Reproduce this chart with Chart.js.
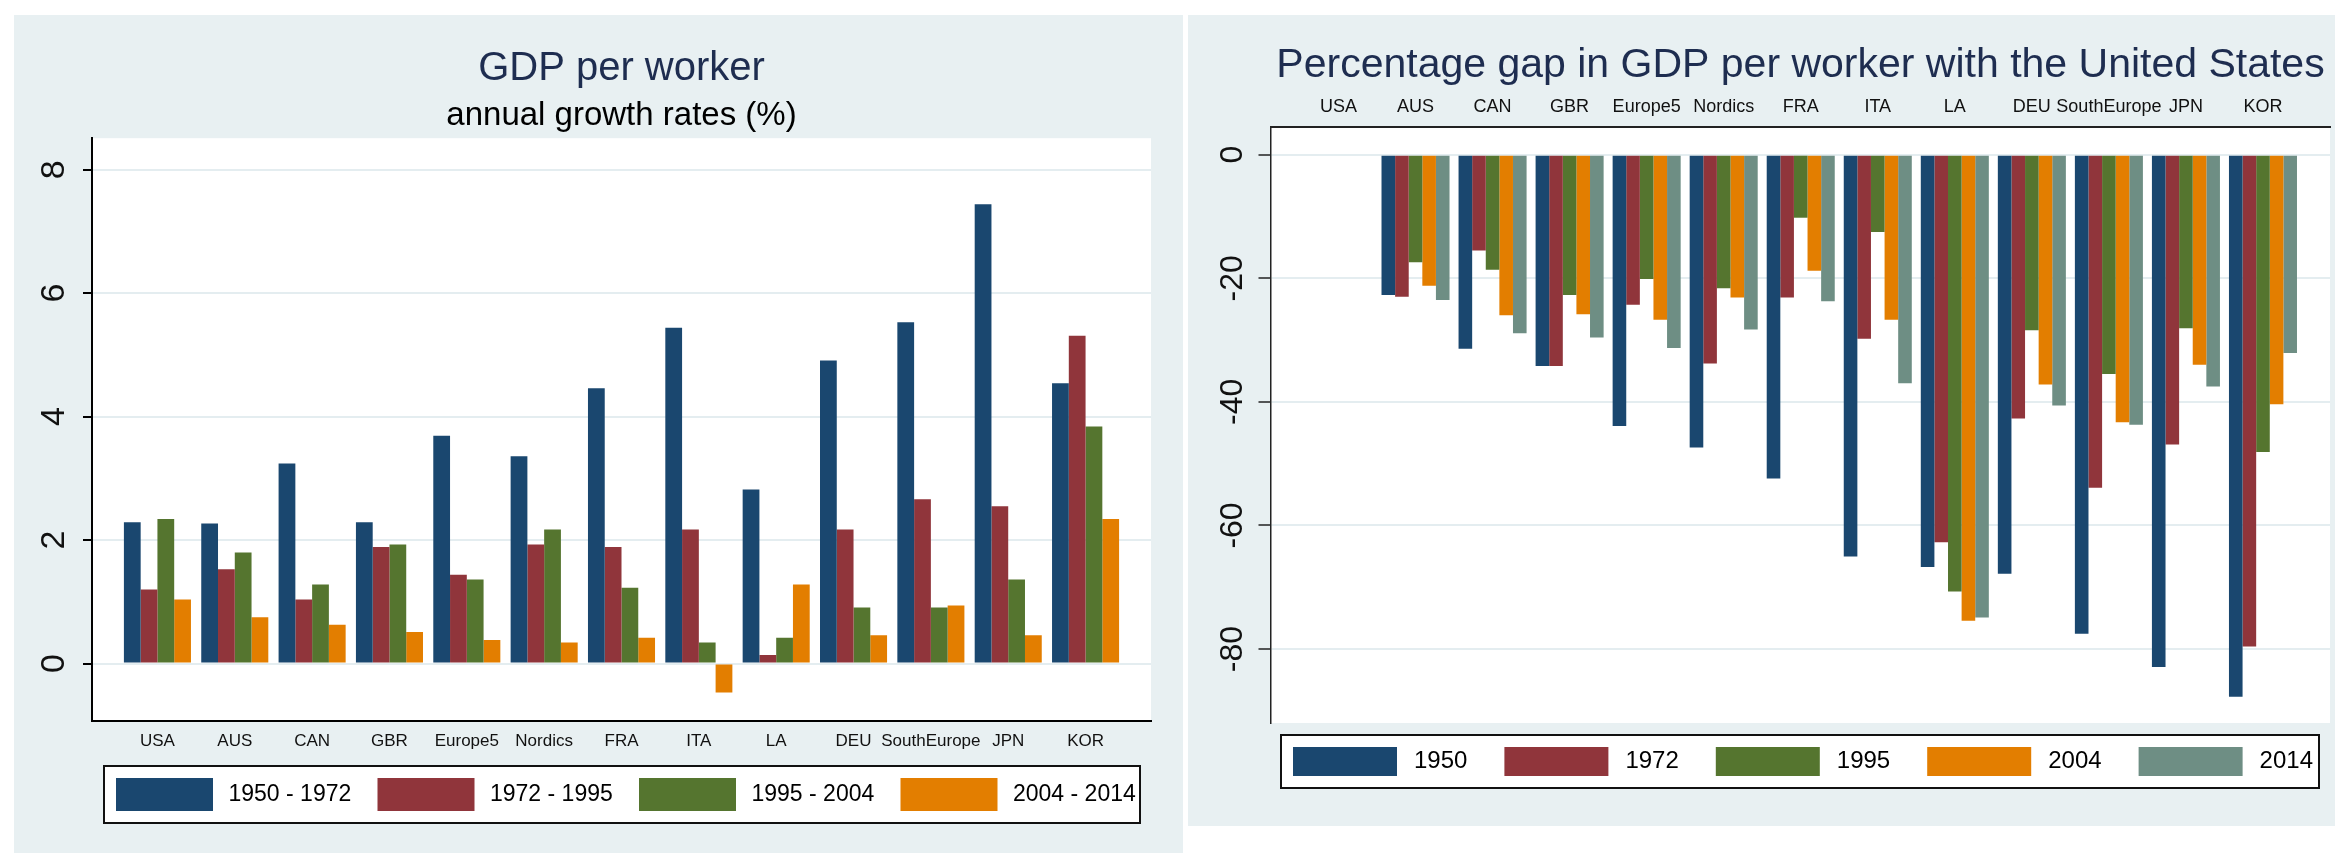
<!DOCTYPE html>
<html>
<head>
<meta charset="utf-8">
<title>GDP per worker</title>
<script src="https://cdn.jsdelivr.net/npm/chart.js@4.4.1/dist/chart.umd.min.js"></script>
<style>
  html, body { margin: 0; padding: 0; background: #fff; }
  body { position: relative; width: 2335px; height: 856px; overflow: hidden; }
  .panel { position: absolute; background: #e8f0f2; }
  .wrap { position: absolute; top: 0; height: 856px; }
</style>
</head>
<body>
<div class="panel" style="left:14px;top:15px;width:1169px;height:838px"></div>
<div class="panel" style="left:1188px;top:15px;width:1147px;height:811px"></div>
<div class="wrap" style="left:0;width:1183px"><canvas id="growth"></canvas></div>
<div class="wrap" style="left:1188px;width:1147px"><canvas id="gap"></canvas></div>
<script>
const categories = ['USA', 'AUS', 'CAN', 'GBR', 'Europe5', 'Nordics', 'FRA', 'ITA', 'LA', 'DEU', 'SouthEurope', 'JPN', 'KOR'];

// left panel: annual growth rates (%)
const growthPeriods = ['1950 - 1972', '1972 - 1995', '1995 - 2004', '2004 - 2014'];
const growth5072 = [2.29, 2.27, 3.24, 2.29, 3.69, 3.36, 4.46, 5.44, 2.82, 4.91, 5.53, 7.44, 4.54];
const growth7295 = [1.20, 1.53, 1.04, 1.89, 1.44, 1.93, 1.89, 2.17, 0.14, 2.17, 2.66, 2.55, 5.31];
const growth9504 = [2.34, 1.80, 1.28, 1.93, 1.36, 2.17, 1.23, 0.34, 0.42, 0.91, 0.91, 1.36, 3.84];
const growth0414 = [1.04, 0.75, 0.63, 0.51, 0.38, 0.34, 0.42, -0.47, 1.28, 0.46, 0.94, 0.46, 2.34];
const growthTicks = [0, 2, 4, 6, 8];

// right panel: percentage gap with the United States
const gapYears = ['1950', '1972', '1995', '2004', '2014'];
const gap1950 = [0, -22.7, -31.4, -34.2, -43.9, -47.4, -52.4, -65.0, -66.7, -67.8, -77.5, -82.9, -87.7];
const gap1972 = [0, -23.0, -15.5, -34.2, -24.3, -33.8, -23.1, -29.8, -62.7, -42.7, -53.9, -46.9, -79.6];
const gap1995 = [0, -17.4, -18.6, -22.7, -20.1, -21.6, -10.2, -12.5, -70.7, -28.4, -35.5, -28.1, -48.1];
const gap2004 = [0, -21.2, -26.0, -25.8, -26.7, -23.1, -18.8, -26.7, -75.4, -37.2, -43.3, -34.0, -40.4];
const gap2014 = [0, -23.5, -28.9, -29.6, -31.3, -28.3, -23.7, -37.0, -74.9, -40.6, -43.7, -37.5, -32.1];
const gapTicks = [0, -20, -40, -60, -80];

const colors = ['#1a476f', '#90353b', '#55752f', '#e37e00', '#6e8e84'];
const titleColor = '#1e2d50';
const gridColor = '#e4edf0';

Chart.defaults.font.family = '"Liberation Sans", Arial, sans-serif';
Chart.defaults.color = '#000';
Chart.defaults.animation = false;

const toPoints = (values) => values.map((v, i) => ({ x: i, y: v }));

// white plot region like stata's plotregion
const plotBackground = {
  id: 'plotBackground',
  beforeDraw(chart) {
    const { ctx, chartArea } = chart;
    ctx.save();
    ctx.fillStyle = '#fff';
    ctx.fillRect(chartArea.left, chartArea.top, chartArea.right - chartArea.left, chartArea.bottom - chartArea.top);
    ctx.restore();
  }
};

// framed legend row under the plot
const boxLegend = {
  id: 'boxLegend',
  afterDraw(chart, args, opts) {
    const { ctx, chartArea } = chart;
    const x0 = chartArea.left + opts.insetLeft;
    const x1 = chartArea.right - opts.insetRight;
    const y0 = chartArea.bottom + opts.offset;
    ctx.save();
    ctx.fillStyle = '#fff';
    ctx.fillRect(x0, y0, x1 - x0, opts.height);
    ctx.strokeStyle = '#111';
    ctx.lineWidth = 2;
    ctx.strokeRect(x0, y0, x1 - x0, opts.height);
    ctx.font = opts.fontSize + 'px "Liberation Sans", Arial, sans-serif';
    ctx.textBaseline = 'middle';
    const boxTop = y0 + (opts.height - opts.boxHeight) / 2;
    chart.data.datasets.forEach((ds, i) => {
      const bx = x0 + opts.first + i * opts.pitch;
      ctx.fillStyle = ds.backgroundColor;
      ctx.fillRect(bx, boxTop, opts.boxWidth, opts.boxHeight);
      ctx.fillStyle = '#000';
      ctx.fillText(ds.label, bx + opts.boxWidth + opts.gap, y0 + opts.height / 2);
    });
    ctx.restore();
  }
};

const growthSeries = [growth5072, growth7295, growth9504, growth0414];

new Chart(document.getElementById('growth'), {
  type: 'bar',
  data: {
    datasets: growthSeries.map((values, i) => ({
      label: growthPeriods[i],
      data: toPoints(values),
      backgroundColor: colors[i],
      borderWidth: 0,
      categoryPercentage: 0.867,
      barPercentage: 1
    }))
  },
  options: {
    responsive: true,
    maintainAspectRatio: false,
    layout: { padding: { left: 0, right: 32, top: 0, bottom: 94.6 } },
    scales: {
      x: {
        type: 'linear',
        min: -0.846,
        max: 12.846,
        offset: false,
        grid: { display: false, drawTicks: false },
        border: { display: true, color: '#000', width: 2 },
        afterBuildTicks: (axis) => { axis.ticks = categories.map((c, i) => ({ value: i })); },
        ticks: {
          autoSkip: false,
          maxRotation: 0,
          padding: 10,
          color: '#111',
          font: { size: 17 },
          callback: (v) => categories[v]
        }
      },
      y: {
        min: -0.93,
        max: 8.51,
        grid: { color: gridColor, lineWidth: 2, tickColor: '#000', tickLength: 9, tickWidth: 2 },
        border: { display: true, color: '#000', width: 2 },
        afterBuildTicks: (axis) => { axis.ticks = growthTicks.map((v) => ({ value: v })); },
        afterFit: (axis) => { axis.width = 92; },
        ticks: {
          minRotation: 90,
          maxRotation: 90,
          crossAlign: 'center',
          padding: 19,
          color: '#111',
          font: { size: 34 }
        }
      }
    },
    plugins: {
      legend: { display: false },
      tooltip: { enabled: false },
      title: {
        display: true,
        fullSize: false,
        text: 'GDP per worker',
        color: titleColor,
        font: { size: 40, weight: 'normal' },
        padding: { top: 45, bottom: 0 }
      },
      subtitle: {
        display: true,
        fullSize: false,
        text: 'annual growth rates (%)',
        color: '#000',
        font: { size: 33, weight: 'normal' },
        padding: { top: 3, bottom: 2.6 }
      },
      boxLegend: {
        insetLeft: 12, insetRight: 11, offset: 45, height: 57,
        first: 12, pitch: 261.5, boxWidth: 97, boxHeight: 33, gap: 15.5, fontSize: 23
      }
    }
  },
  plugins: [plotBackground, boxLegend]
});

const gapSeries = [gap1950, gap1972, gap1995, gap2004, gap2014];

new Chart(document.getElementById('gap'), {
  type: 'bar',
  data: {
    datasets: gapSeries.map((values, i) => ({
      label: gapYears[i],
      data: toPoints(values),
      backgroundColor: colors[i],
      borderWidth: 0,
      categoryPercentage: 0.883,
      barPercentage: 1
    }))
  },
  options: {
    responsive: true,
    maintainAspectRatio: false,
    layout: { padding: { left: 0, right: 5, top: 0, bottom: 133 } },
    scales: {
      x: {
        type: 'linear',
        position: 'top',
        min: -0.876,
        max: 12.87,
        offset: false,
        grid: { display: false, drawTicks: false },
        border: { display: true, color: '#222', width: 2 },
        afterBuildTicks: (axis) => { axis.ticks = categories.map((c, i) => ({ value: i })); },
        afterFit: (axis) => { axis.height = 36.4; },
        ticks: {
          autoSkip: false,
          maxRotation: 0,
          padding: 9.2,
          color: '#111',
          font: { size: 18 },
          callback: (v) => categories[v]
        }
      },
      y: {
        min: -91.96,
        max: 4.48,
        grid: { color: gridColor, lineWidth: 2, tickColor: '#222', tickLength: 12.5, tickWidth: 1.5 },
        border: { display: true, color: '#222', width: 1.5 },
        afterBuildTicks: (axis) => { axis.ticks = gapTicks.map((v) => ({ value: v })); },
        afterFit: (axis) => { axis.width = 83; },
        ticks: {
          minRotation: 90,
          maxRotation: 90,
          crossAlign: 'center',
          padding: 2,
          color: '#111',
          font: { size: 32 }
        }
      }
    },
    plugins: {
      legend: { display: false },
      tooltip: { enabled: false },
      title: {
        display: true,
        fullSize: false,
        text: 'Percentage gap in GDP per worker with the United States',
        color: titleColor,
        font: { size: 41, weight: 'normal' },
        padding: { top: 41.4, bottom: 0 }
      },
      boxLegend: {
        insetLeft: 10, insetRight: 11, offset: 12, height: 53,
        first: 12, pitch: 211.4, boxWidth: 104, boxHeight: 29, gap: 17, fontSize: 24
      }
    }
  },
  plugins: [plotBackground, boxLegend]
});
</script>
</body>
</html>
